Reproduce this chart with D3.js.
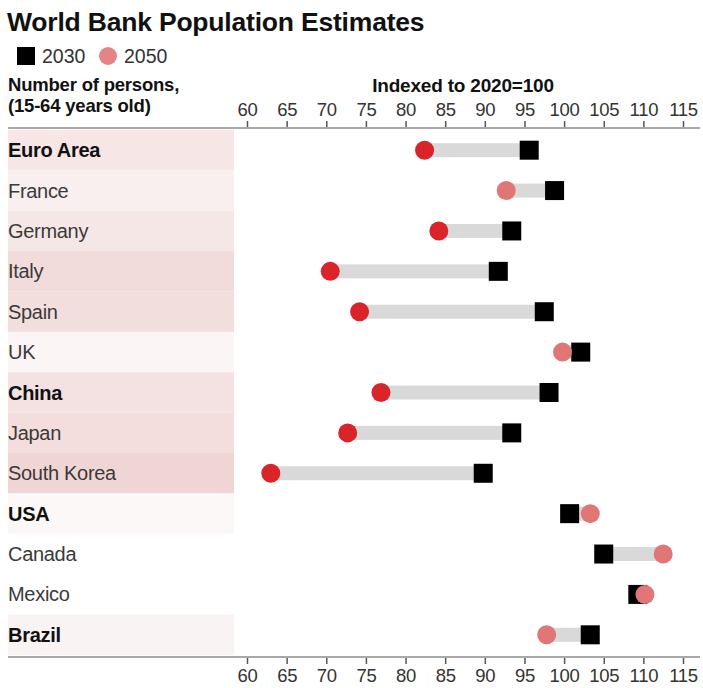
<!DOCTYPE html>
<html>
<head>
<meta charset="utf-8">
<script src="https://cdn.jsdelivr.net/npm/d3@7/dist/d3.min.js"></script>
<style>
  html, body { margin: 0; padding: 0; background: #fff; }
  svg { display: block; font-family: "Liberation Sans", Arial, sans-serif; }
</style>
</head>
<body>
<svg id="chart" width="703" height="688"></svg>
<script>
const countries = ["Euro Area","France","Germany","Italy","Spain","UK","China","Japan","South Korea","USA","Canada","Mexico","Brazil"];
const boldRows = ["Euro Area","China","USA","Brazil"];
const values2030 = [95.6, 98.8, 93.4, 91.7, 97.5, 102.1, 98.1, 93.4, 89.8, 100.7, 105.0, 109.3, 103.3];
const values2050 = [82.4, 92.7, 84.2, 70.5, 74.2, 99.8, 76.9, 72.7, 63.0, 103.3, 112.5, 110.2, 97.8];
const tickValues = [60, 65, 70, 75, 80, 85, 90, 95, 100, 105, 110, 115];

const data = countries.map((c, i) => ({
  name: c, v30: values2030[i], v50: values2050[i], bold: boldRows.includes(c)
}));

const svg = d3.select("#chart");

const x = d3.scaleLinear().domain([60, 115]).range([247, 683]);
const y = d3.scaleBand().domain(countries).range([130, 655]).padding(0);

const bandColor = d3.scaleLinear().domain([10, 0, -40]).range(["#ffffff", "#fbf5f5", "#efd2d2"]).clamp(true);
const dotColor = d => (d.v50 - 100) < -10 ? "#d9242a" : "#e07676";

// Title
svg.append("text").attr("x", 7).attr("y", 31)
  .attr("font-size", 26.5).attr("font-weight", "bold").attr("fill", "#111")
  .attr("letter-spacing", -0.2)
  .text("World Bank Population Estimates");

// Legend
const lg = svg.append("g");
lg.append("rect").attr("x", 17).attr("y", 47).attr("width", 18).attr("height", 18).attr("fill", "#000");
lg.append("text").attr("x", 42).attr("y", 63).attr("font-size", 19.5).attr("fill", "#333").text("2030");
lg.append("circle").attr("cx", 108).attr("cy", 56).attr("r", 9).attr("fill", "#e38585");
lg.append("text").attr("x", 124).attr("y", 63).attr("font-size", 19.5).attr("fill", "#333").text("2050");

// Header
svg.append("text").attr("x", 8).attr("y", 91).attr("font-size", 18.5).attr("font-weight", "bold")
  .attr("fill", "#111").attr("letter-spacing", -0.2).text("Number of persons,");
svg.append("text").attr("x", 8).attr("y", 112).attr("font-size", 18.5).attr("font-weight", "bold")
  .attr("fill", "#111").attr("letter-spacing", -0.2).text("(15-64 years old)");
svg.append("text").attr("x", 463).attr("y", 92).attr("text-anchor", "middle").attr("font-size", 19)
  .attr("font-weight", "bold").attr("fill", "#111").attr("letter-spacing", -0.2).text("Indexed to 2020=100");

// Row bands
svg.append("g").selectAll("rect").data(data).join("rect")
  .attr("x", 8).attr("width", 226)
  .attr("y", d => y(d.name)).attr("height", y.bandwidth())
  .attr("fill", d => bandColor(d.v50 - 100));

// Row labels
svg.append("g").selectAll("text").data(data).join("text")
  .attr("x", 8).attr("y", d => y(d.name) + y.bandwidth() / 2 + 7)
  .attr("font-size", 20)
  .attr("font-weight", d => d.bold ? "bold" : "normal")
  .attr("fill", d => d.bold ? "#111" : "#3a3a3a")
  .attr("letter-spacing", -0.3)
  .text(d => d.name);

// Axes
function styleAxis(g) {
  g.select(".domain").remove();
  g.selectAll(".tick line").attr("stroke", "#555").attr("stroke-width", 1.5);
  g.selectAll(".tick text").attr("font-size", 18.5).attr("fill", "#333")
    .attr("font-family", "Liberation Sans, Arial, sans-serif").attr("letter-spacing", -0.3);
}
const topAxis = svg.append("g").attr("transform", "translate(0,128)")
  .call(d3.axisTop(x).tickValues(tickValues).tickSize(7).tickPadding(5).tickFormat(d3.format("d")));
styleAxis(topAxis);
const botAxis = svg.append("g").attr("transform", "translate(0,657)")
  .call(d3.axisBottom(x).tickValues(tickValues).tickSize(7).tickPadding(5).tickFormat(d3.format("d")));
styleAxis(botAxis);

svg.append("line").attr("x1", 8).attr("x2", 700).attr("y1", 128).attr("y2", 128)
  .attr("stroke", "#a8a8a8").attr("stroke-width", 2);
svg.append("line").attr("x1", 8).attr("x2", 700).attr("y1", 657).attr("y2", 657)
  .attr("stroke", "#a8a8a8").attr("stroke-width", 2);

// Connector bars
const cy = d => y(d.name) + y.bandwidth() / 2;
svg.append("g").selectAll("rect").data(data).join("rect")
  .attr("x", d => x(Math.min(d.v30, d.v50)))
  .attr("width", d => Math.abs(x(d.v30) - x(d.v50)))
  .attr("y", d => cy(d) - 7).attr("height", 14)
  .attr("fill", "#d9d9d9");

// Squares (2030)
svg.append("g").selectAll("rect").data(data).join("rect")
  .attr("x", d => x(d.v30) - 9.5).attr("y", d => cy(d) - 9.5)
  .attr("width", 19).attr("height", 19).attr("fill", "#000");

// Circles (2050)
svg.append("g").selectAll("circle").data(data).join("circle")
  .attr("cx", d => x(d.v50)).attr("cy", d => cy(d)).attr("r", 9.5)
  .attr("fill", d => dotColor(d));
</script>
</body>
</html>
